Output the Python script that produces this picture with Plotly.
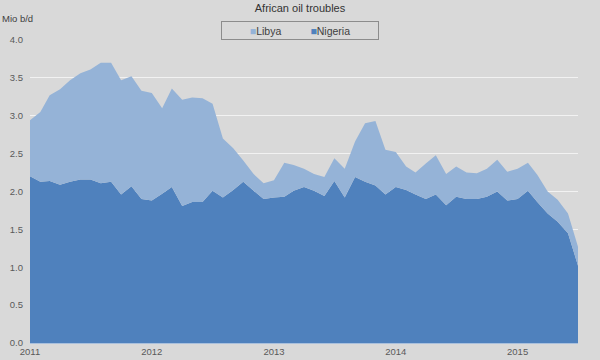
import plotly.graph_objects as go

# Monthly observations, Jan 2011 .. Jul 2015
months = [f"{2011 + (i // 12)}-{(i % 12) + 1:02d}-01" for i in range(55)]

nigeria = [2.20, 2.13, 2.14, 2.09, 2.13, 2.16, 2.16, 2.11, 2.13, 1.96, 2.07, 1.90,
           1.88, 1.97, 2.06, 1.81, 1.86, 1.86, 2.01, 1.92, 2.02, 2.13, 2.01, 1.90,
           1.92, 1.93, 2.01, 2.06, 2.01, 1.94, 2.14, 1.92, 2.19, 2.13, 2.08, 1.96,
           2.06, 2.02, 1.96, 1.90, 1.96, 1.82, 1.93, 1.90, 1.90, 1.93, 2.00, 1.88,
           1.90, 2.01, 1.86, 1.71, 1.60, 1.45, 1.02]

libya = [0.74, 0.92, 1.13, 1.26, 1.34, 1.40, 1.45, 1.59, 1.57, 1.51, 1.45, 1.43,
         1.42, 1.13, 1.30, 1.40, 1.38, 1.37, 1.15, 0.78, 0.55, 0.28, 0.22, 0.21,
         0.23, 0.45, 0.34, 0.24, 0.22, 0.25, 0.30, 0.38, 0.47, 0.77, 0.85, 0.59,
         0.46, 0.31, 0.29, 0.47, 0.52, 0.41, 0.40, 0.35, 0.34, 0.37, 0.42, 0.38,
         0.40, 0.37, 0.36, 0.29, 0.29, 0.26, 0.25]

year_ticks = ["2011-01-01", "2012-01-01", "2013-01-01", "2014-01-01", "2015-01-01"]
year_labels = ["2011", "2012", "2013", "2014", "2015"]
y_ticks = [0, 0.5, 1.0, 1.5, 2.0, 2.5, 3.0, 3.5, 4.0]

BG = "#d9d9d9"
FONT = "Liberation Sans, Arial, sans-serif"
C_NIG = "#4f81bd"
C_LIB = "#95b3d7"

fig = go.Figure()
fig.add_trace(go.Scatter(x=months, y=nigeria, name="Nigeria", stackgroup="one",
                         mode="none", fillcolor=C_NIG))
fig.add_trace(go.Scatter(x=months, y=libya, name="Libya", stackgroup="one",
                         mode="none", fillcolor=C_LIB))

legend_text = (f"<span style='color:{C_LIB}'>■</span>Libya"
               f"          <span style='color:{C_NIG}'>■</span>Nigeria")

fig.update_layout(
    width=600, height=360,
    paper_bgcolor=BG, plot_bgcolor=BG,
    margin=dict(l=30, r=22, t=40, b=17, autoexpand=False),
    font=dict(family=FONT, size=10, color="#595959"),
    title=dict(text="African oil troubles", x=0.5, xref="container", xanchor="center",
               yref="container", y=1 - 8 / 360, yanchor="middle",
               font=dict(size=11, color="#333333")),
    showlegend=False,
    annotations=[
        dict(text="Mio b/d", xref="paper", yref="paper", x=-30 / 548, y=1 + 21 / 303,
             xanchor="left", yanchor="middle", showarrow=False,
             font=dict(size=9.5, color="#404040")),
        dict(text=legend_text, xref="paper", yref="paper",
             x=(300 - 30) / 548, y=1 + 10 / 303, xanchor="center", yanchor="middle",
             showarrow=False, width=156, height=17, align="center",
             bordercolor="#8c8c8c", borderwidth=1, borderpad=0, bgcolor=BG,
             font=dict(size=10.5, color="#404040")),
    ],
    hovermode=False,
)
fig.update_xaxes(type="date", range=["2011-01-01", "2015-07-01"],
                 tickvals=year_ticks, ticktext=year_labels,
                 showgrid=False, zeroline=False,
                 showline=True, linecolor="#a9c0dd", linewidth=1,
                 ticks="", tickfont=dict(size=9.5, color="#595959"))
fig.update_yaxes(range=[0, 4.0], tickvals=y_ticks, tickformat=".1f",
                 showgrid=True, gridcolor="#f2f2f2", gridwidth=1,
                 zeroline=False, showline=False, ticks="",
                 ticklabelstandoff=6,
                 tickfont=dict(size=9.5, color="#595959"))

fig.write_html("out.html",
               config={"displayModeBar": False, "staticPlot": True},
               post_script="document.body.style.margin='0';document.body.style.background='#d9d9d9';")
